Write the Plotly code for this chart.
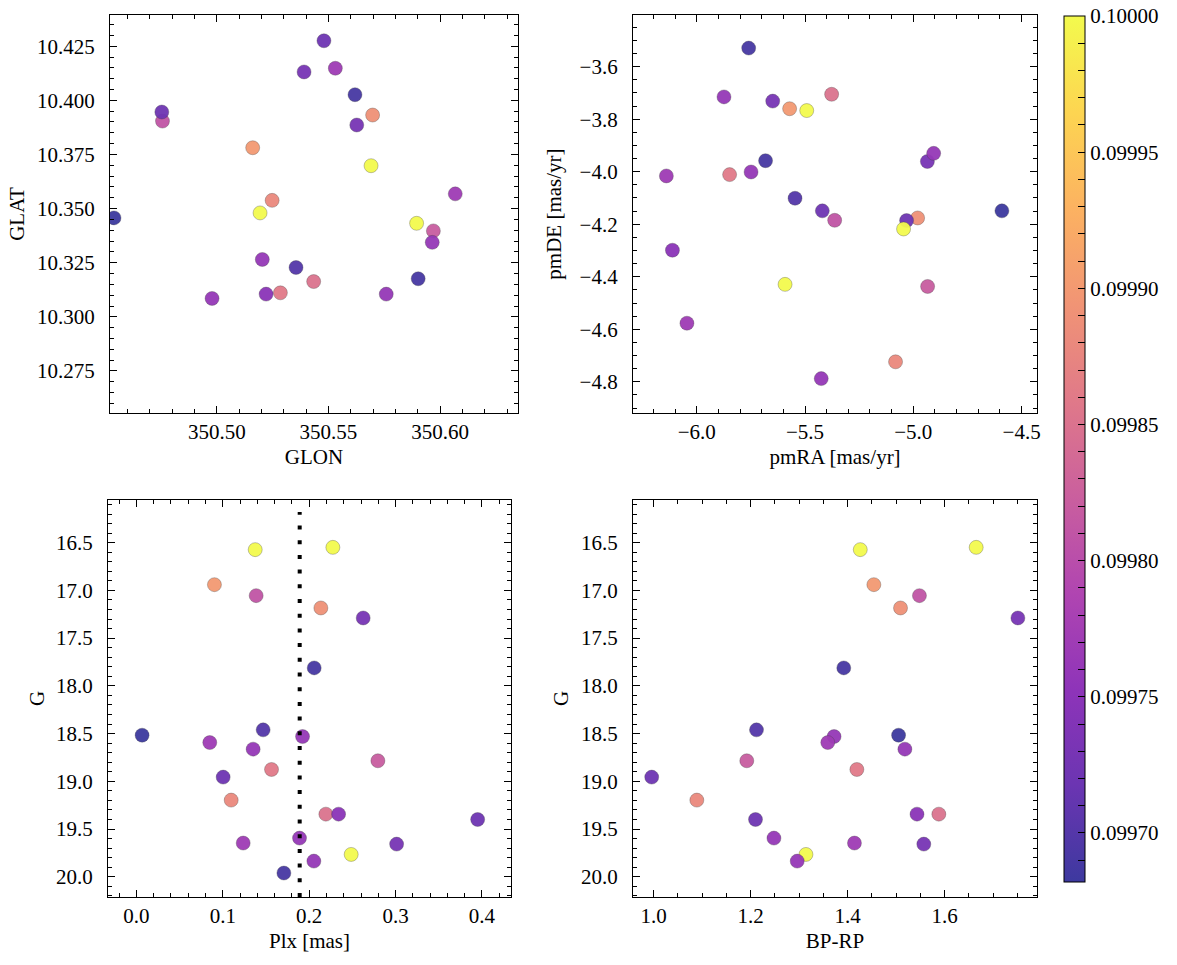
import numpy as np
import plotly.graph_objects as go
from plotly.colors import sequential, hex_to_rgb

# ---- data (one entry per star) ----
G = [16.573, 16.549, 16.940, 17.055, 17.184, 17.289, 17.812, 18.517, 18.461, 18.531,
     18.594, 18.663, 18.785, 18.876, 18.956, 19.197, 19.344, 19.344, 19.400, 19.647,
     19.595, 19.658, 19.766, 19.836, 19.961]
Plx = [0.1375, 0.2274, 0.0903, 0.1386, 0.2135, 0.2625, 0.2058, 0.0066, 0.1467, 0.1923,
       0.0849, 0.1351, 0.2795, 0.1564, 0.1004, 0.1097, 0.2193, 0.2340, 0.3950, 0.1236,
       0.1888, 0.3012, 0.2486, 0.2054, 0.1707]
BP_RP = [1.426, 1.665, 1.454, 1.548, 1.509, 1.751, 1.392, 1.505, 1.212, 1.372,
         1.359, 1.518, 1.192, 1.419, 0.996, 1.089, 1.588, 1.543, 1.210, 1.414,
         1.248, 1.557, 1.314, 1.296, None]
GLON = [350.5194, 350.5691, 350.5161, 350.4757, 350.5698, 350.5627, 350.5619, 350.4540, 350.5355, 350.4979,
        350.5531, 350.5204, 350.5970, 350.5285, 350.5480, 350.5248, 350.5434, 350.5221, 350.4754, 350.6068,
        350.5759, 350.5391, 350.5895, 350.5965, 350.5902]
GLAT = [10.3480, 10.3698, 10.3781, 10.3904, 10.3932, 10.3886, 10.4026, 10.3457, 10.3228, 10.3085,
        10.4148, 10.3265, 10.3397, 10.3111, 10.4275, 10.3538, 10.3163, 10.3105, 10.3946, 10.3568,
        10.3105, 10.4131, 10.3432, 10.3344, 10.3176]
pmRA = [-5.492, -5.592, -5.571, -5.363, -4.980, -5.649, -5.760, -4.591, -5.546, -5.874,
        -6.140, -5.749, -4.934, -5.848, -5.420, -5.082, -5.377, -6.112, -5.031, -6.045,
        -5.425, -4.935, -5.045, -4.906, -5.682]
pmDE = [-3.767, -4.429, -3.760, -4.185, -4.176, -3.731, -3.529, -4.149, -4.101, -3.715,
        -4.016, -4.001, -4.437, -4.011, -4.149, -4.724, -3.705, -4.299, -4.186, -4.577,
        -4.788, -3.961, -4.218, -3.930, -3.958]
prob = [0.10000, 0.10000, 0.09990, 0.09981, 0.09989, 0.09973, 0.09969, 0.099682, 0.09970, 0.09976,
        0.09977, 0.09976, 0.09982, 0.09986, 0.09972, 0.09988, 0.09985, 0.09975, 0.09972, 0.09977,
        0.09976, 0.09973, 0.10000, 0.09976, 0.09969]
plx_ref = 0.189
cbar_labels = ["0.09970", "0.09975", "0.09980", "0.09985", "0.09990", "0.09995", "0.10000"]

FONT = "Liberation Serif"
FS = 21
ALPHA = 0.8
cmin, cmax = min(prob), max(prob)

# plasma colormap seen through alpha on white
pl = sequential.Plasma
cscale = []
for i, h in enumerate(pl):
    r, g, b = hex_to_rgb(h)
    r, g, b = [round(c * ALPHA + 255 * (1 - ALPHA)) for c in (r, g, b)]
    cscale.append([i / (len(pl) - 1), f"rgb({r},{g},{b})"])

minor_cb = list(np.round(np.arange(0.09969, 0.100001, 0.00001), 6))
minor_cb = [v for v in minor_cb if f"{v:.5f}" not in cbar_labels]

fig = go.Figure()

panels = [
    (GLON, GLAT, "x", "y"),
    (pmRA, pmDE, "x2", "y2"),
    (Plx, G, "x3", "y3"),
    (BP_RP, G, "x4", "y4"),
]
for k, (xs, ys, xa, ya) in enumerate(panels):
    marker = dict(size=14, color=prob, colorscale=cscale, cmin=cmin, cmax=cmax,
                  opacity=0.95, line=dict(width=0.6, color="rgba(60,60,60,0.55)"),
                  showscale=(k == 0))
    if k == 0:
        marker["colorbar"] = dict(
            x=1064 / 1177, xanchor="left", y=1 - 16 / 965, yanchor="top",
            len=866 / 965, lenmode="fraction", thickness=21, thicknessmode="pixels",
            xpad=0, ypad=0,
            outlinecolor="black", outlinewidth=1,
            ticks="inside", ticklen=7, tickcolor="black", tickwidth=1,
            tickvals=[float(v) for v in cbar_labels] + minor_cb,
            ticktext=cbar_labels + [""] * len(minor_cb),
            tickfont=dict(family=FONT, size=FS, color="black"),
        )
    fig.add_trace(go.Scatter(x=xs, y=ys, xaxis=xa, yaxis=ya, mode="markers",
                             showlegend=False, marker=marker))

fig.add_shape(type="line", xref="x3", yref="y3 domain", x0=plx_ref, x1=plx_ref, y0=0, y1=0.97,
              line=dict(color="black", width=4, dash="4px,10.7px"))

def ax(domain, rng, dtick, tick0, minor, fmt, title, standoff, anchor, lstand):
    return dict(
        domain=domain, range=rng, dtick=dtick, tick0=tick0, tickformat=fmt,
        anchor=anchor, showgrid=False, zeroline=False,
        showline=True, linecolor="black", linewidth=1.2, mirror="allticks",
        ticks="inside", ticklen=7, tickwidth=1, tickcolor="black",
        minor=dict(dtick=minor, tick0=tick0, ticks="inside", ticklen=3.5, tickwidth=1,
                   tickcolor="black", showgrid=False),
        tickfont=dict(family=FONT, size=FS, color="black"),
        title=dict(text=title, font=dict(family=FONT, size=FS, color="black"), standoff=standoff),
        automargin=False, ticklabelstandoff=lstand,
    )

X1 = [110 / 1177, 518 / 1177]
X2 = [633 / 1177, 1037 / 1177]
X3 = [108 / 1177, 511 / 1177]
Ytop = [1 - 413 / 965, 1 - 15 / 965]
Ybot = [1 - 897 / 965, 1 - 500 / 965]

fig.update_layout(
    width=1177, height=965, margin=dict(l=0, r=0, t=0, b=0),
    paper_bgcolor="white", plot_bgcolor="white",
    font=dict(family=FONT, size=FS, color="black"),
    xaxis=ax(X1, [350.4522, 350.6349], 0.05, 350.5, 0.01, ".2f", "GLON", 6, "y", 0),
    yaxis=ax(Ytop, [10.2556, 10.4394], 0.025, 10.3, 0.005, ".3f", "GLAT", 6, "x", 10),
    xaxis2=ax(X2, [-6.294, -4.429], 0.5, -6.0, 0.1, ".1f", "pmRA [mas/yr]", 6, "y2", 0),
    yaxis2=ax(Ytop, [-4.919, -3.403], 0.2, -4.0, 0.05, ".1f", "pmDE [mas/yr]", 12, "x2", 10),
    xaxis3=ax(X3, [-0.0329, 0.4336], 0.1, 0.0, 0.02, ".1f", "Plx [mas]", 6, "y3", 0),
    yaxis3=ax(Ybot, [20.212, 16.053], 0.5, 16.0, 0.1, ".1f", "G", 5, "x3", 10),
    xaxis4=ax(X2, [0.9574, 1.7904], 0.2, 1.0, 0.05, ".1f", "BP-RP", 6, "y4", 0),
    yaxis4=ax(Ybot, [20.212, 16.053], 0.5, 16.0, 0.1, ".1f", "G", 6, "x4", 10),
)

fig.write_html("out.html")
